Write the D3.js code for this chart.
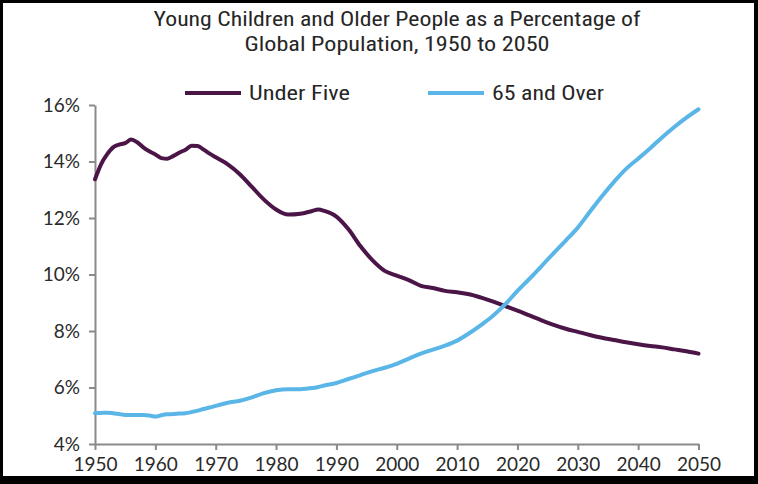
<!DOCTYPE html>
<html>
<head>
<meta charset="utf-8">
<script src="https://cdn.jsdelivr.net/npm/d3@7"></script>
<style>
  html, body { margin: 0; padding: 0; background: #fff; }
  svg { display: block; }
  .narrow { font-family: "Liberation Sans Narrow", "Roboto Condensed", "DejaVu Sans Condensed", "Liberation Sans", sans-serif; }
  .tick text { font-family: "Lato", "Liberation Sans", sans-serif; }
</style>
</head>
<body>
<svg id="chart" width="758" height="484"></svg>
<script>
// Share of world population, by year
const years = [1950, 1951, 1952, 1953, 1954, 1955, 1956, 1957, 1958, 1959,
  1960, 1961, 1962, 1963, 1964, 1965, 1966, 1967, 1968, 1969,
  1970, 1972, 1974, 1976, 1978, 1980, 1982, 1984, 1986, 1987, 1988,
  1990, 1992, 1994, 1996, 1998, 2000, 2002, 2004, 2006, 2008,
  2010, 2012, 2014, 2016, 2018, 2020, 2022, 2024, 2026, 2028,
  2030, 2032, 2034, 2036, 2038, 2040, 2042, 2044, 2046, 2048, 2050];

const underFive = [13.37, 13.9, 14.25, 14.5, 14.6, 14.65, 14.78, 14.68, 14.5, 14.36,
  14.25, 14.12, 14.1, 14.2, 14.32, 14.42, 14.56, 14.55, 14.42, 14.28,
  14.15, 13.9, 13.55, 13.1, 12.65, 12.3, 12.12, 12.15, 12.25, 12.3, 12.25,
  12.05, 11.6, 11.0, 10.5, 10.13, 9.96, 9.8, 9.6, 9.52, 9.42,
  9.37, 9.3, 9.18, 9.04, 8.88, 8.72, 8.55, 8.38, 8.22, 8.08,
  7.97, 7.86, 7.76, 7.68, 7.6, 7.53, 7.47, 7.42, 7.35, 7.28, 7.2];

const sixtyFivePlus = [5.09, 5.1, 5.11, 5.09, 5.06, 5.03, 5.03, 5.03, 5.03, 5.01,
  4.97, 5.02, 5.05, 5.06, 5.08, 5.09, 5.13, 5.18, 5.24, 5.29,
  5.35, 5.46, 5.53, 5.65, 5.8, 5.9, 5.94, 5.94, 5.98, 6.02, 6.07,
  6.16, 6.3, 6.44, 6.58, 6.7, 6.84, 7.02, 7.2, 7.34, 7.48,
  7.66, 7.92, 8.22, 8.55, 8.95, 9.42, 9.85, 10.3, 10.76, 11.2,
  11.66, 12.22, 12.77, 13.28, 13.74, 14.1, 14.47, 14.86, 15.22, 15.55, 15.85];

const seriesNames = ["Under Five", "65 and Over"];
const seriesColors = ["#4b1548", "#5ab6e6"];
const yTicks = [4, 6, 8, 10, 12, 14, 16];
const xTicks = [1950, 1960, 1970, 1980, 1990, 2000, 2010, 2020, 2030, 2040, 2050];
const titleLines = ["Young Children and Older People as a Percentage of",
                    "Global Population, 1950 to 2050"];

const W = 758, H = 484;
const svg = d3.select("#chart");

// black frame around the whole figure
svg.append("rect").attr("width", W).attr("height", H).attr("fill", "#000");
svg.append("rect").attr("x", 3).attr("y", 3).attr("width", 751).attr("height", 473).attr("fill", "#fff");

const x = d3.scaleLinear().domain([1950, 2050]).range([95, 698.5]);
const y = d3.scaleLinear().domain([4, 16]).range([444, 105]);

// squeeze or stretch a text element to a target width when the font differs
function fitTo(sel, targets, tol) {
  sel.each(function (d, i) {
    const w = this.getComputedTextLength();
    if (Math.abs(w - targets[i]) > tol) {
      d3.select(this).attr("textLength", targets[i]).attr("lengthAdjust", "spacingAndGlyphs");
    }
  });
}

// title
const title = svg.append("g").attr("class", "narrow").attr("fill", "#262626")
  .attr("font-size", 21).attr("text-anchor", "middle");
title.selectAll("text").data(titleLines).join("text")
  .attr("x", 397)
  .attr("y", (d, i) => 26 + i * 25)
  .text(d => d)
  .call(fitTo, [487, 305], 6);

// axes
const axisColor = "#8a8a8a";
const yAxis = d3.axisLeft(y).tickValues(yTicks).tickFormat(d => d + "%")
  .tickSize(6).tickSizeOuter(0).tickPadding(9);
const xAxis = d3.axisBottom(x).tickValues(xTicks).tickFormat(d3.format("d"))
  .tickSize(6).tickSizeOuter(0).tickPadding(8);

const gy = svg.append("g").attr("transform", `translate(${x(1950)},0)`).call(yAxis);
const gx = svg.append("g").attr("transform", `translate(0,${y(4)})`).call(xAxis);
[gx, gy].forEach(g => {
  g.select(".domain").attr("stroke", axisColor).attr("stroke-width", 2);
  g.selectAll(".tick line").attr("stroke", axisColor).attr("stroke-width", 2);
  g.selectAll(".tick text").attr("fill", "#2a2a2a").attr("font-size", 19);
});

// series lines
const series = [underFive, sixtyFivePlus];
const line = d3.line()
  .x((d, i) => x(years[i]))
  .y(d => y(d))
  .curve(d3.curveMonotoneX);

svg.append("g").selectAll("path").data(series).join("path")
  .attr("d", d => line(d))
  .attr("fill", "none")
  .attr("stroke", (d, i) => seriesColors[i])
  .attr("stroke-width", 4)
  .attr("stroke-linejoin", "round")
  .attr("stroke-linecap", "round");

// legend
const legendX = [185, 428];
const legend = svg.append("g").attr("class", "narrow");
const items = legend.selectAll("g").data(seriesNames).join("g")
  .attr("transform", (d, i) => `translate(${legendX[i]},93)`);
items.append("line")
  .attr("x1", 0).attr("x2", 56).attr("y1", 0).attr("y2", 0)
  .attr("stroke", (d, i) => seriesColors[i]).attr("stroke-width", 4);
items.append("text")
  .attr("x", 64).attr("y", 7)
  .attr("font-size", 21).attr("fill", "#262626")
  .text(d => d);
fitTo(legend.selectAll("text"), [101, 112], 5);
</script>
</body>
</html>
